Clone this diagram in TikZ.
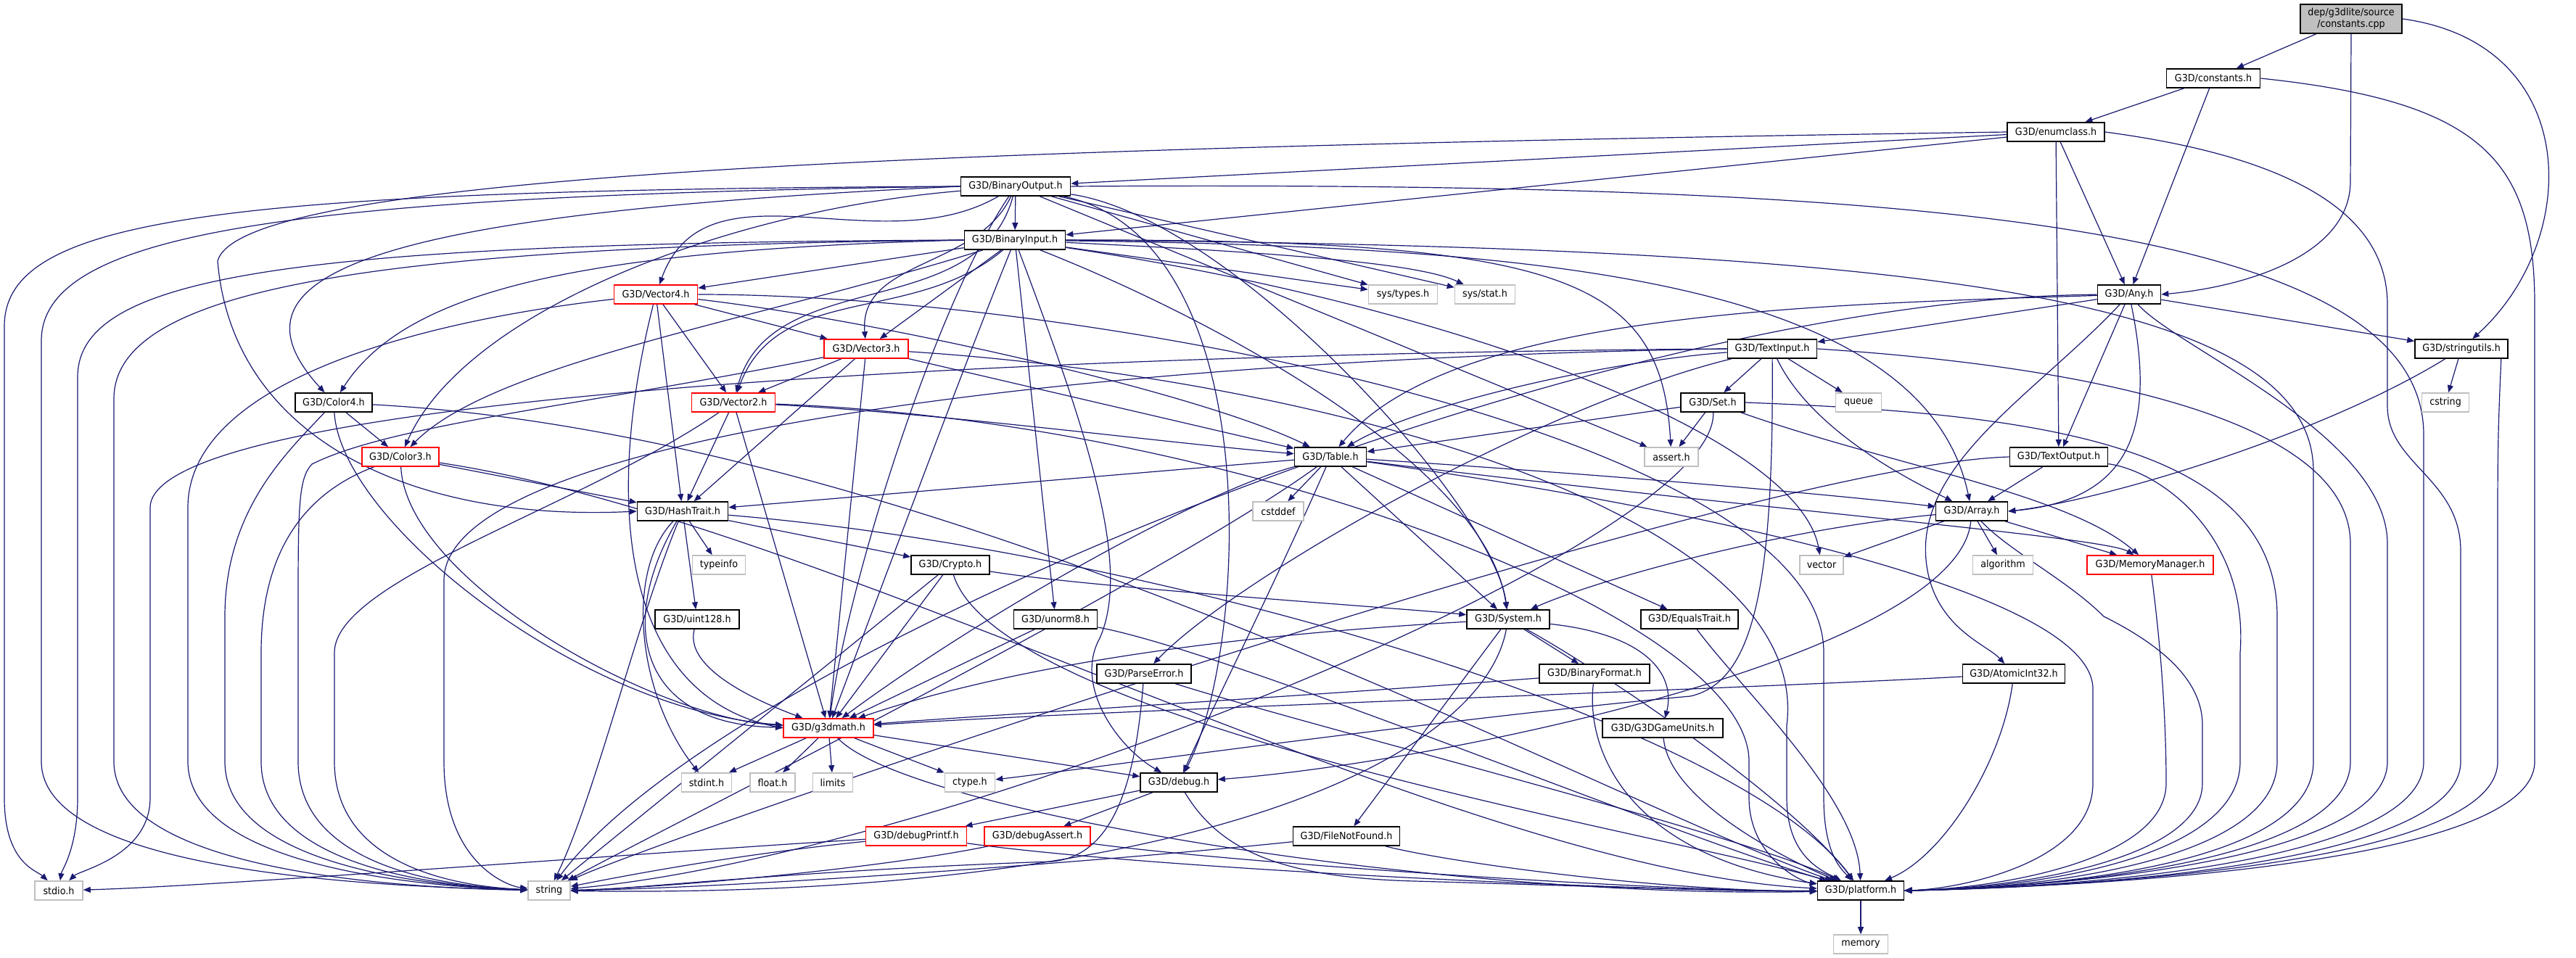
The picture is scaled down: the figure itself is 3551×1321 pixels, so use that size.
\documentclass[tikz,border=0pt]{standalone}
\usepackage{fontspec}
\newfontfamily\gfont{DejaVu Sans}[FakeStretch=0.93]
\usetikzlibrary{arrows.meta}
\definecolor{edgec}{RGB}{25,25,112}
\definecolor{lgray}{RGB}{191,191,191}
\pgfdeclarelayer{background}
\pgfsetlayers{background,main}
\tikzset{
  nd/.style={draw=black, line width=1.6pt, fill=white, minimum height=26pt, inner sep=0pt,
    font=\gfont\fontsize{13.7pt}{16pt}\selectfont, text=black},
  rnd/.style={nd, draw=red},
  gnd/.style={nd, draw=lgray},
  e/.style={draw=edgec, line width=1.2pt, -{Triangle[length=10pt,width=8pt]}},
}
\begin{document}
\begin{tikzpicture}[x=1pt,y=1pt]
\useasboundingbox (0,0) rectangle (3551,-1321);
% nodes
\node[nd, fill=lgray, minimum width=140pt, minimum height=40pt, align=center] (cpp) at (3241,-26) {dep/g3dlite/source\\/constants.cpp};
\node[nd,minimum width=129pt] (cons) at (3051,-108) {G3D/constants.h};
\node[nd,minimum width=134pt] (enumc) at (2834,-182) {G3D/enumclass.h};
\node[nd,minimum width=151pt] (bout) at (1400,-257) {G3D/BinaryOutput.h};
\node[nd,minimum width=139pt] (bin) at (1399,-331) {G3D/BinaryInput.h};
\node[nd,minimum width=87pt] (any) at (2935,-406) {G3D/Any.h};
\node[rnd,minimum width=115pt] (v4) at (904,-406) {G3D/Vector4.h};
\node[gnd,minimum width=95pt] (systypes) at (1934,-406) {sys/types.h};
\node[gnd,minimum width=83pt] (sysstat) at (2047,-406) {sys/stat.h};
\node[rnd,minimum width=116pt] (v3) at (1194,-481) {G3D/Vector3.h};
\node[nd,minimum width=123pt] (tin) at (2443,-481) {G3D/TextInput.h};
\node[nd,minimum width=128pt] (strut) at (3393,-481) {G3D/stringutils.h};
\node[nd,minimum width=106pt] (c4) at (460,-555) {G3D/Color4.h};
\node[rnd,minimum width=115pt] (v2) at (1011,-555) {G3D/Vector2.h};
\node[nd,minimum width=88pt] (set) at (2361,-555) {G3D/Set.h};
\node[gnd,minimum width=63pt] (queue) at (2562,-555) {queue};
\node[gnd,minimum width=65pt] (cstring) at (3371,-555) {cstring};
\node[rnd,minimum width=106pt] (c3) at (552,-630) {G3D/Color3.h};
\node[nd,minimum width=99pt] (table) at (1834,-630) {G3D/Table.h};
\node[gnd,minimum width=74pt] (assert) at (2304,-630) {assert.h};
\node[nd,minimum width=135pt] (tout) at (2838,-630) {G3D/TextOutput.h};
\node[nd,minimum width=125pt] (hash) at (941,-705) {G3D/HashTrait.h};
\node[gnd,minimum width=70pt] (cstddef) at (1762,-705) {cstddef};
\node[nd,minimum width=99pt] (array) at (2718,-705) {G3D/Array.h};
\node[gnd,minimum width=73pt] (typeinfo) at (991,-779) {typeinfo};
\node[nd,minimum width=108pt] (crypto) at (1310,-779) {G3D/Crypto.h};
\node[gnd,minimum width=60pt] (vector) at (2511,-779) {vector};
\node[gnd,minimum width=83pt] (algo) at (2761,-779) {algorithm};
\node[rnd,minimum width=174pt] (memmgr) at (2964,-779) {G3D/MemoryManager.h};
\node[nd,minimum width=116pt] (u128) at (961,-854) {G3D/uint128.h};
\node[nd,minimum width=115pt] (unorm) at (1455,-854) {G3D/unorm8.h};
\node[nd,minimum width=114pt] (system) at (2079,-854) {G3D/System.h};
\node[nd,minimum width=134pt] (equals) at (2329,-854) {G3D/EqualsTrait.h};
\node[nd,minimum width=130pt] (perr) at (1577,-929) {G3D/ParseError.h};
\node[nd,minimum width=152pt] (bfmt) at (2198,-929) {G3D/BinaryFormat.h};
\node[nd,minimum width=141pt] (atomic) at (2776,-929) {G3D/AtomicInt32.h};
\node[rnd,minimum width=124pt] (math) at (1142,-1004) {G3D/g3dmath.h};
\node[nd,minimum width=166pt] (units) at (2292,-1004) {G3D/G3DGameUnits.h};
\node[gnd,minimum width=69pt] (stdint) at (974,-1079) {stdint.h};
\node[gnd,minimum width=62pt] (float) at (1065,-1079) {float.h};
\node[gnd,minimum width=55pt] (limits) at (1148,-1079) {limits};
\node[gnd,minimum width=69pt] (ctype) at (1337,-1079) {ctype.h};
\node[nd,minimum width=106pt] (debug) at (1625,-1079) {G3D/debug.h};
\node[rnd,minimum width=139pt] (dprintf) at (1263,-1153) {G3D/debugPrintf.h};
\node[rnd,minimum width=146pt] (dassert) at (1430,-1153) {G3D/debugAssert.h};
\node[nd,minimum width=147pt] (fnf) at (1856,-1153) {G3D/FileNotFound.h};
\node[gnd,minimum width=66pt] (stdio) at (81,-1228) {stdio.h};
\node[gnd,minimum width=58pt] (string) at (757,-1228) {string};
\node[nd,minimum width=119pt] (platform) at (2565,-1228) {G3D/platform.h};
\node[gnd,minimum width=75pt] (memory) at (2565,-1302) {memory};

\begin{pgfonlayer}{background}
% constants.cpp
\draw[e] (cpp) -- (cons);
\draw[e] (cpp.south) -- (3240,-250) .. controls (3240,-350) and (3100,-395) .. (any.east);
\draw[e] (cpp.east) .. controls (3560,-60) and (3560,-330) .. (strut);
% constants.h
\draw[e] (cons) -- (enumc);
\draw[e] (cons) -- (any);
\draw[e] (cons.east) .. controls (3420,-140) and (3494,-220) .. (3494,-420) -- (3494,-1050) .. controls (3494,-1190) and (2900,-1222) .. (platform.east);
% enumclass.h
\draw[e] (enumc) -- (bout);
\draw[e] (enumc) -- (bin);
\draw[e] (enumc.west) .. controls (1200,-205) and (330,-245) .. (300,-360) .. controls (320,-600) and (560,-720) .. (hash.west);
\draw[e] (enumc) -- (tout);
\draw[e] (enumc) -- (any);
\draw[e] (enumc.east) .. controls (3150,-215) and (3291,-290) .. (3291,-420) -- (3291,-560) .. controls (3291,-640) and (3392,-660) .. (3392,-760) -- (3392,-1050) .. controls (3392,-1190) and (2880,-1224) .. (platform.east);
% BinaryOutput.h
\draw[e] (bout) -- (bin);
\draw[e] (bout) to[out=-150,in=70] (v4);
\draw[e] (bout) to[out=-115,in=95] (v3);
\draw[e] (bout) to[out=-105,in=75] (v2);
\draw[e] (bout.west) .. controls (500,-295) and (300,-380) .. (c4);
\draw[e] (bout) .. controls (1000,-290) and (640,-430) .. (c3);
\draw[e] (bout) .. controls (1290,-420) and (1170,-800) .. (math);
\draw[e] (bout) .. controls (1750,-330) and (1720,-900) .. (debug);
\draw[e] (bout) .. controls (1700,-300) and (2060,-700) .. (system);
\draw[e] (bout) -- (systypes);
\draw[e] (bout) -- (sysstat);
\draw[e] (bout) -- (assert);
\draw[e] (bout.west) .. controls (300,-262) and (6,-300) .. (6,-450) -- (6,-1100) .. controls (6,-1190) and (50,-1200) .. (stdio);
\draw[e] (bout.west) .. controls (400,-270) and (57,-320) .. (57,-470) -- (57,-1050) .. controls (57,-1200) and (500,-1222) .. (string);
\draw[e] (bout.east) .. controls (2600,-250) and (3341,-300) .. (3341,-600) -- (3341,-1050) .. controls (3341,-1190) and (2860,-1224) .. (platform.east);
% BinaryInput.h
\draw[e] (bin) -- (v4);
\draw[e] (bin) -- (v3);
\draw[e] (bin) to[out=-140,in=70] (v2);
\draw[e] (bin.west) .. controls (800,-345) and (560,-400) .. (c4);
\draw[e] (bin) .. controls (1050,-440) and (680,-500) .. (c3);
\draw[e] (bin) .. controls (1330,-500) and (1200,-850) .. (math);
\draw[e] (bin) .. controls (1500,-600) and (1560,-780) .. (1516,-880) .. controls (1480,-945) and (1540,-1030) .. (debug);
\draw[e] (bin) .. controls (1700,-450) and (2050,-650) .. (system);
\draw[e] (bin) -- (systypes);
\draw[e] (bin) .. controls (1800,-350) and (1960,-365) .. (sysstat);
\draw[e] (bin) .. controls (2150,-330) and (2290,-380) .. (assert);
\draw[e] (bin) .. controls (2000,-420) and (2480,-600) .. (vector);
\draw[e] (bin) -- (unorm);
\draw[e] (bin) .. controls (2100,-340) and (2650,-380) .. (array);
\draw[e] (bin.west) .. controls (400,-335) and (107,-380) .. (107,-520) -- (107,-1100) .. controls (107,-1170) and (85,-1200) .. (stdio);
\draw[e] (bin.west) .. controls (500,-340) and (157,-400) .. (157,-550) -- (157,-1050) .. controls (157,-1195) and (520,-1224) .. (string);
\draw[e] (bin.east) .. controls (2600,-340) and (3189,-400) .. (3189,-650) -- (3189,-1050) .. controls (3189,-1190) and (2840,-1224) .. (platform.east);
% Any.h
\draw[e] (any) -- (strut);
\draw[e] (any) -- (tout);
\draw[e] (any) .. controls (2975,-600) and (2930,-690) .. (array.east);
\draw[e] (any) .. controls (2800,-550) and (2620,-650) .. (2660,-800) .. controls (2680,-870) and (2740,-890) .. (atomic);
\draw[e] (any) -- (tin);
\draw[e] (any) .. controls (2500,-420) and (2000,-430) .. (table);
\draw[e] (any) .. controls (2200,-410) and (1000,-900) .. (string);
\draw[e] (any) .. controls (3000,-480) and (3291,-600) .. (3291,-750) -- (3291,-1050) .. controls (3291,-1190) and (2820,-1224) .. (platform.east);
% Vector4.h
\draw[e] (v4) -- (v3);
\draw[e] (v4) -- (v2);
\draw[e] (v4) -- (hash);
\draw[e] (v4) .. controls (1200,-440) and (1650,-540) .. (table);
\draw[e] (v4) .. controls (830,-700) and (860,-960) .. (math.west);
\draw[e] (v4) .. controls (600,-440) and (259,-520) .. (259,-700) -- (259,-1050) .. controls (259,-1190) and (560,-1222) .. (string);
\draw[e] (v4.east) .. controls (1500,-406) and (2514,-600) .. (2514,-900) -- (2514,-1100) .. controls (2514,-1180) and (2540,-1200) .. (platform);
% Vector3.h
\draw[e] (v3) -- (v2);
\draw[e] (v3) -- (hash);
\draw[e] (v3) -- (math);
\draw[e] (v3) -- (table);
\draw[e] (v3) .. controls (800,-560) and (540,-585) .. (430,-640) .. controls (411,-660) and (411,-700) .. (411,-850) -- (411,-1050) .. controls (411,-1190) and (600,-1222) .. (string);
\draw[e] (v3) .. controls (1800,-520) and (2500,-700) .. (2463,-1000) -- (2463,-1100) .. controls (2463,-1180) and (2510,-1200) .. (platform);
% Vector2.h
\draw[e] (v2) -- (hash);
\draw[e] (v2) -- (math);
\draw[e] (v2) .. controls (1300,-570) and (1600,-610) .. (table);
\draw[e] (v2) .. controls (800,-700) and (461,-800) .. (461,-900) -- (461,-1050) .. controls (461,-1190) and (620,-1222) .. (string);
\draw[e] (v2) .. controls (1700,-580) and (2411,-850) .. (2411,-1050) -- (2411,-1100) .. controls (2411,-1180) and (2480,-1215) .. (platform);
% Color4.h
\draw[e] (c4) -- (c3);
\draw[e] (c4) .. controls (470,-720) and (800,-980) .. (math);
\draw[e] (c4) .. controls (400,-620) and (310,-700) .. (310,-850) -- (310,-1050) .. controls (310,-1190) and (580,-1222) .. (string);
\draw[e] (c4) .. controls (1300,-600) and (2200,-1100) .. (platform);
% Color3.h
\draw[e] (c3) -- (hash);
\draw[e] (c3) .. controls (560,-800) and (900,-990) .. (math);
\draw[e] (c3) .. controls (420,-680) and (360,-760) .. (360,-900) -- (360,-1050) .. controls (360,-1190) and (590,-1222) .. (string);
\draw[e] (c3) .. controls (1150,-720) and (2000,-1200) .. (platform);
% TextInput.h
\draw[e] (tin) -- (set);
\draw[e] (tin) -- (queue);
\draw[e] (tin) .. controls (2500,-600) and (2650,-670) .. (array);
\draw[e] (tin) .. controls (2200,-500) and (1950,-560) .. (table);
\draw[e] (tin) .. controls (2120,-560) and (1700,-800) .. (perr);
\draw[e] (tin) .. controls (2445,-800) and (2420,-940) .. (2330,-960) .. controls (2000,-990) and (1500,-1060) .. (ctype);
\draw[e] (tin.west) .. controls (1500,-487) and (207,-540) .. (207,-700) -- (207,-1100) .. controls (207,-1180) and (110,-1200) .. (stdio);
\draw[e] (tin.west) .. controls (1500,-495) and (612,-600) .. (612,-800) -- (612,-1050) .. controls (612,-1190) and (700,-1222) .. (string);
\draw[e] (tin.east) .. controls (2800,-500) and (3240,-560) .. (3240,-750) -- (3240,-1050) .. controls (3240,-1190) and (2830,-1224) .. (platform.east);
% Set.h
\draw[e] (set) -- (table);
\draw[e] (set) -- (assert);
\draw[e] (set) .. controls (2600,-640) and (2850,-680) .. (memmgr);
\draw[e] (set) .. controls (2370,-750) and (1300,-1180) .. (string);
\draw[e] (set.east) .. controls (2800,-570) and (3139,-610) .. (3139,-850) -- (3139,-1050) .. controls (3139,-1190) and (2800,-1226) .. (platform.east);
% stringutils.h
\draw[e] (strut) -- (cstring);
\draw[e] (strut) .. controls (3200,-600) and (2900,-690) .. (array.east);
\draw[e] ([xshift=-10pt]strut.south east) .. controls (3445,-560) and (3443,-600) .. (3443,-700) -- (3443,-1050) .. controls (3443,-1190) and (2890,-1222) .. (platform.east);
% TextOutput.h
\draw[e] (tout) -- (array);
\draw[e] (tout.west) .. controls (2400,-640) and (900,-1160) .. (string);
\draw[e] (tout) .. controls (2980,-650) and (3100,-740) .. (3088,-900) -- (3088,-1050) .. controls (3088,-1190) and (2780,-1226) .. (platform.east);
% Table.h
\draw[e] (table) -- (cstddef);
\draw[e] (table) .. controls (2300,-660) and (2600,-690) .. (array);
\draw[e] (table) -- (hash);
\draw[e] (table) .. controls (1760,-800) and (1660,-1000) .. (debug);
\draw[e] (table) -- (system);
\draw[e] (table) -- (equals);
\draw[e] (table) .. controls (1650,-680) and (1350,-850) .. (math);
\draw[e] (table) .. controls (2400,-700) and (2900,-740) .. (memmgr);
\draw[e] (table) .. controls (1600,-800) and (900,-1150) .. (string);
\draw[e] (table) .. controls (2200,-680) and (2885,-800) .. (2885,-950) -- (2885,-1080) .. controls (2885,-1190) and (2700,-1226) .. (platform.east);
% Array.h
\draw[e] (array) -- (vector);
\draw[e] (array) -- (algo);
\draw[e] (array) -- (memmgr);
\draw[e] (array) .. controls (2450,-730) and (2200,-800) .. (system);
\draw[e] (array) .. controls (2700,-900) and (2000,-1050) .. (debug);
\draw[e] (array) .. controls (2770,-760) and (2850,-800) .. (2900,-850) .. controls (3000,-900) and (3036,-950) .. (3036,-1000) -- (3036,-1080) .. controls (3036,-1190) and (2760,-1226) .. (platform.east);
% MemoryManager.h
\draw[e] (memmgr) .. controls (2980,-900) and (2986,-1000) .. (2986,-1080) .. controls (2986,-1190) and (2740,-1226) .. (platform.east);
% HashTrait.h
\draw[e] (hash) -- (typeinfo);
\draw[e] (hash) -- (u128);
\draw[e] (hash) -- (crypto);
\draw[e] (hash) .. controls (850,-860) and (880,-1000) .. (math);
\draw[e] (hash) .. controls (860,-790) and (880,-960) .. (stdint);
\draw[e] (hash) .. controls (880,-850) and (820,-1100) .. (string);
\draw[e] (hash) .. controls (1600,-760) and (2400,-1000) .. (platform);
% uint128.h
\draw[e] (u128) .. controls (940,-930) and (1080,-980) .. (math);
% Crypto.h
\draw[e] (crypto) -- (math);
\draw[e] (crypto) .. controls (1500,-810) and (1950,-840) .. (system);
\draw[e] (crypto) -- (string);
\draw[e] (crypto) .. controls (1380,-1000) and (2300,-1150) .. (platform);
% unorm8.h
\draw[e] (unorm) -- (math);
\draw[e] (unorm) .. controls (1700,-900) and (2300,-1150) .. (platform);
% System.h
\draw[e] (system) .. controls (1800,-870) and (1450,-900) .. (math);
\draw[e] (system) -- (bfmt);
\draw[e] (system) .. controls (2270,-875) and (2310,-930) .. (units);
\draw[e] (system) -- (fnf);
\draw[e] (system) .. controls (2040,-1060) and (1600,-1240) .. (string);
\draw[e] (system) .. controls (2200,-920) and (2470,-1100) .. (platform);
% EqualsTrait.h
\draw[e] (equals) .. controls (2400,-950) and (2560,-1100) .. (platform);
% ParseError.h
\draw[e] (perr) .. controls (1565,-1080) and (1535,-1180) .. (1450,-1188) .. controls (1100,-1200) and (850,-1228) .. (string);
\draw[e] (perr) .. controls (1800,-1000) and (2400,-1150) .. (platform);
% BinaryFormat.h
\draw[e] (bfmt) .. controls (1800,-960) and (1300,-990) .. (math);
\draw[e] (bfmt) .. controls (2185,-1040) and (2250,-1180) .. (platform);
% AtomicInt32.h
\draw[e] (atomic) .. controls (2400,-950) and (1500,-980) .. (math);
\draw[e] (atomic) .. controls (2760,-1050) and (2680,-1180) .. (platform);
% G3DGameUnits.h
\draw[e] (units) .. controls (2300,-1100) and (2450,-1180) .. (platform);
% g3dmath.h
\draw[e] (math) -- (stdint);
\draw[e] (math) -- (float);
\draw[e] (math) -- (limits);
\draw[e] (math) -- (ctype);
\draw[e] (math) -- (debug);
\draw[e] (math) .. controls (1250,-1120) and (2000,-1240) .. (platform);
% debug.h
\draw[e] (debug) -- (dprintf);
\draw[e] (debug) -- (dassert);
\draw[e] (debug) .. controls (1680,-1170) and (1760,-1210) .. (1950,-1215) .. controls (2200,-1222) and (2400,-1230) .. (platform);
% debugPrintf.h
\draw[e] (dprintf) .. controls (900,-1175) and (300,-1222) .. (stdio);
\draw[e] (dprintf) .. controls (1000,-1180) and (850,-1210) .. (string);
\draw[e] (dprintf) .. controls (1600,-1200) and (2300,-1230) .. (platform);
% debugAssert.h
\draw[e] (dassert) .. controls (1200,-1200) and (900,-1225) .. (string);
\draw[e] (dassert) .. controls (1700,-1190) and (2300,-1230) .. (platform);
% FileNotFound.h
\draw[e] (fnf) .. controls (1500,-1190) and (1000,-1225) .. (string);
\draw[e] (fnf) .. controls (2000,-1190) and (2300,-1230) .. (platform);
% platform.h
\draw[e] (platform) -- (memory);
\end{pgfonlayer}
\end{tikzpicture}
\end{document}
